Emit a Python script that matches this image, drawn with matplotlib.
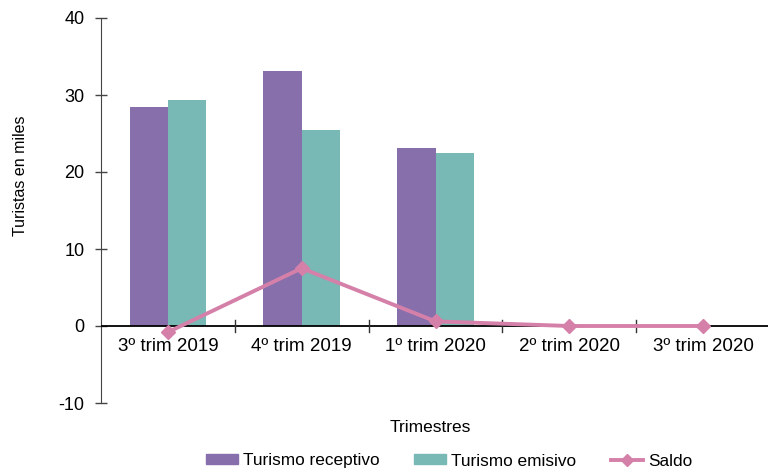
import matplotlib
matplotlib.use("Agg")
import matplotlib.pyplot as plt
import numpy as np
from matplotlib.patches import Patch
from matplotlib.lines import Line2D

categories = ["3º trim 2019", "4º trim 2019", "1º trim 2020", "2º trim 2020", "3º trim 2020"]
receptivo = [28.4, 33.1, 23.1, 0, 0]
emisivo = [29.3, 25.5, 22.5, 0, 0]
saldo = [-0.8, 7.5, 0.6, 0.0, 0.0]
yticks = [-10, 0, 10, 20, 30, 40]

c_rec = "#866FAB"
c_emi = "#78B8B5"
c_sal = "#D580A9"

plt.rcParams['font.family'] = ['Liberation Sans', 'DejaVu Sans']
plt.rcParams['axes.unicode_minus'] = False

fig = plt.figure(figsize=(7.68, 4.74), dpi=100)
ax = fig.add_axes([101/768, 1-403/474, 669/768, 385/474])

x = np.arange(len(categories))
w = 0.286
ax.bar(x - w/2, receptivo, w, color=c_rec, zorder=2)
ax.bar(x + w/2, emisivo, w, color=c_emi, zorder=2)
ax.plot(x, saldo, color=c_sal, lw=2.8, marker='D', ms=7.5, zorder=4)

ax.set_xlim(-0.5, 4.5)
ax.set_ylim(-10, 40)
ax.set_yticks(yticks)
ax.tick_params(axis='y', direction='inout', length=8, width=1, labelsize=13, color='#444444', pad=8)
for s in ['top', 'right', 'bottom']:
    ax.spines[s].set_visible(False)
ax.spines['left'].set_color('#444444')

# x axis at y=0
ax.axhline(0, color='black', lw=1.3, zorder=3)
ax.set_xticks([])
for b in np.arange(0.5, 4.5, 1.0):
    ax.plot([b, b], [-0.75, 0.75], color='#333333', lw=1, zorder=3, clip_on=False)
for xi, lab in zip(x, categories):
    ax.text(xi, -1.6, lab, ha='center', va='top', fontsize=13.5)

fig.text(21/768, 1-176/474, "Turistas en miles", rotation=90, ha='center', va='center', fontsize=11.5)
fig.text(430/768, 1-428/474, "Trimestres", ha='center', va='center', fontsize=12.5)

handles = [Patch(color=c_rec, label="Turismo receptivo"),
           Patch(color=c_emi, label="Turismo emisivo"),
           Line2D([0], [0], color=c_sal, lw=2.8, marker='D', ms=6.5, label="Saldo")]
fig.legend(handles=handles, loc='center', bbox_to_anchor=(449/768, 1-461/474), ncol=3,
           frameon=False, fontsize=12.4, handlelength=1.86, handleheight=0.52,
           handletextpad=0.3, columnspacing=2.0, borderpad=0, borderaxespad=0)

fig.savefig("out.png", dpi=100)
